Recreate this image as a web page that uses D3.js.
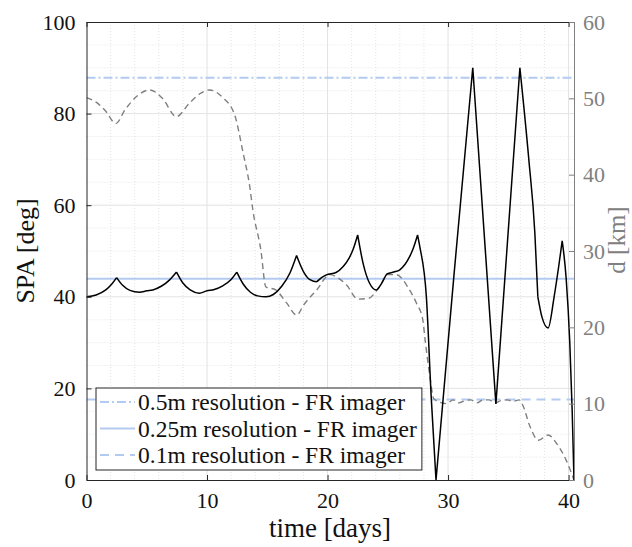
<!DOCTYPE html>
<html>
<head>
<meta charset="utf-8">
<script src="https://cdn.jsdelivr.net/npm/d3@7"></script>
<style>
  body { margin: 0; background: #fff; }
  text { font-family: "Liberation Serif", "Times New Roman", serif; }
</style>
</head>
<body>
<svg id="chart" width="632" height="547"></svg>
<script>
"use strict";

// SPA (left axis, deg) - black solid line
const spaTime = [0, 0.8, 1.6, 2.1, 2.5, 3.0, 3.6, 4.4, 5.0, 5.5, 6.2, 6.9, 7.47,
  8.0, 8.6, 9.35, 10.0, 10.6, 11.3, 12.0, 12.47, 13.0, 13.6, 14.2, 14.9, 15.5,
  16.2, 16.9, 17.43, 18.0, 18.5, 19.05, 19.5, 19.9, 20.7, 21.3, 21.8, 22.1, 22.5,
  22.95, 23.5, 24.05, 24.5, 24.95, 25.5, 26.0, 26.8, 27.1, 27.47, 27.66, 28.2,
  28.6, 29.0, 30.5, 32.05, 33.97, 35.96, 36.7, 37.2, 37.45, 37.8, 38.3, 38.8,
  39.2, 39.47, 39.8, 40.1, 40.3, 40.45];
const spaValues = [40, 40.4, 41.5, 42.8, 44.2, 42.5, 41.4, 41.0, 41.3, 41.5, 42.3,
  43.7, 45.4, 43.0, 41.5, 40.8, 41.3, 41.6, 42.4, 43.8, 45.4, 42.8, 41.0, 40.2,
  40.0, 40.5, 42.3, 45.3, 49.0, 45.5, 43.8, 43.3, 44.2, 44.8, 45.3, 46.6, 48.5,
  50.2, 53.5, 47.3, 42.9, 41.5, 43.0, 45.0, 45.4, 45.9, 48.7, 50.5, 53.5, 50.9,
  40, 18.2, 0, 45, 90, 16.6, 90, 70, 54, 40, 35.5, 33.2, 40.0, 47.0, 52.2, 44,
  30, 15, 0];
// times where the SPA curve has a sharp corner
const spaCusps = [2.5, 7.47, 12.47, 17.43, 22.5, 27.47, 29.0, 32.05, 33.97, 35.96, 37.45, 39.47];

// distance (right axis, km) - gray dashed line
const distTime = [0, 0.8, 1.6, 2.43, 3.2, 4.2, 5.25, 6.3, 7.46, 8.5, 9.4, 10.2,
  11.3, 12.3, 13.0, 13.55, 13.8, 14.47, 14.88, 15.7, 16.6, 17.45, 18.0, 19.1,
  20.2, 20.75, 21.6, 22.5, 23.4, 24.3, 25.0, 25.7, 26.8, 27.4, 27.9, 28.1, 28.5,
  28.8, 29.3, 29.9, 30.4, 30.9, 31.4, 31.9, 32.4, 32.9, 33.4, 33.9, 34.4, 34.9,
  35.4, 35.9, 36.2, 36.8, 37.5, 38.3, 39.0, 39.8, 40.45];
const distValues = [50.1, 49.5, 48.3, 46.7, 48.5, 50.3, 51.1, 50.0, 47.6, 49.3,
  50.6, 51.1, 50.1, 47.8, 42.8, 38.4, 35.4, 30.1, 25.3, 24.9, 23.2, 21.6, 22.9,
  24.9, 26.9, 26.6, 25.5, 23.7, 23.8, 25.3, 26.9, 26.9, 24.9, 23.1, 21.0, 18.3,
  13.5, 10.7, 10.2, 10.0, 10.5, 10.1, 10.4, 10.5, 10.1, 10.5, 10.5, 10.1, 10.4,
  10.5, 10.3, 10.5, 9.8, 7.0, 5.2, 5.9, 4.8, 2.6, 0];

// resolution thresholds (right axis, km)
const resLabels = ["0.5m resolution - FR imager", "0.25m resolution - FR imager", "0.1m resolution - FR imager"];
const resValues = [52.7, 26.35, 10.54];
const resDash = ["9,3,2,3", null, "9,6"];

const xTicks = [0, 10, 20, 30, 40];
const yLeftTicks = [0, 20, 40, 60, 80, 100];
const yRightTicks = [0, 10, 20, 30, 40, 50, 60];

const svg = d3.select("#chart");
const pLeft = 86.5, pRight = 574, pTop = 22, pBottom = 480;
const axisColor = "#262626", rightColor = "#808080", resColor = "#b3cbf0";

const x = d3.scaleLinear().domain([0, 40.45]).range([pLeft, pRight]);
const yL = d3.scaleLinear().domain([0, 100]).range([pBottom, pTop]);
const yR = d3.scaleLinear().domain([0, 60]).range([pBottom, pTop]);

svg.append("defs").append("clipPath").attr("id", "plotClip")
  .append("rect").attr("x", pLeft).attr("y", pTop)
  .attr("width", pRight - pLeft).attr("height", pBottom - pTop);

// minor grid
const grid = svg.append("g");
grid.selectAll("line.mx").data(d3.range(2, 40.45, 2).filter(v => v % 10 !== 0))
  .enter().append("line")
  .attr("x1", d => x(d)).attr("x2", d => x(d)).attr("y1", pTop).attr("y2", pBottom)
  .attr("stroke", "#d8d8d8").attr("stroke-width", 0.7).attr("stroke-dasharray", "1,2");
grid.selectAll("line.my").data(d3.range(5, 100, 5).filter(v => v % 20 !== 0))
  .enter().append("line")
  .attr("x1", pLeft).attr("x2", pRight).attr("y1", d => yL(d)).attr("y2", d => yL(d))
  .attr("stroke", "#d8d8d8").attr("stroke-width", 0.7).attr("stroke-dasharray", "1,2");
// major grid
grid.selectAll("line.gx").data(xTicks.slice(1))
  .enter().append("line")
  .attr("x1", d => x(d)).attr("x2", d => x(d)).attr("y1", pTop).attr("y2", pBottom)
  .attr("stroke", "#e3e3e3").attr("stroke-width", 1);
grid.selectAll("line.gy").data(yLeftTicks.slice(1, -1))
  .enter().append("line")
  .attr("x1", pLeft).attr("x2", pRight).attr("y1", d => yL(d)).attr("y2", d => yL(d))
  .attr("stroke", "#e3e3e3").attr("stroke-width", 1);

const plot = svg.append("g").attr("clip-path", "url(#plotClip)");

// resolution lines
plot.selectAll("line.res").data(resValues)
  .enter().append("line")
  .attr("x1", pLeft).attr("x2", pRight)
  .attr("y1", d => yR(d)).attr("y2", d => yR(d))
  .attr("stroke", resColor).attr("stroke-width", 2)
  .attr("stroke-dasharray", (d, i) => resDash[i]);

// distance line
const distLine = d3.line().x(d => x(d[0])).y(d => yR(d[1])).curve(d3.curveMonotoneX);
plot.append("path")
  .attr("d", distLine(distTime.map((t, i) => [t, distValues[i]])))
  .attr("fill", "none").attr("stroke", "#7f7f7f").attr("stroke-width", 1.4)
  .attr("stroke-dasharray", "6,4");

// SPA line: smooth pieces between the sharp corners
const spaPoints = spaTime.map((t, i) => [t, spaValues[i]]);
const spaPieces = [];
let piece = [];
spaPoints.forEach(p => {
  piece.push(p);
  if (spaCusps.includes(p[0])) {
    spaPieces.push(piece);
    piece = [p];
  }
});
if (piece.length > 1) spaPieces.push(piece);

const spaLine = d3.line().x(d => x(d[0])).y(d => yL(d[1])).curve(d3.curveMonotoneX);
plot.append("path")
  .attr("d", spaPieces.map(s => spaLine(s)).join(""))
  .attr("fill", "none").attr("stroke", "#000").attr("stroke-width", 1.5)
  .attr("stroke-linejoin", "miter");

// axes
const fontSize = "22px";
const xAxis = svg.append("g").attr("transform", `translate(0,${pBottom})`)
  .call(d3.axisBottom(x).tickValues(xTicks).tickSizeInner(-5).tickSizeOuter(0).tickPadding(12));
const xTop = svg.append("g").attr("transform", `translate(0,${pTop})`)
  .call(d3.axisTop(x).tickValues(xTicks).tickSizeInner(-5).tickSizeOuter(0).tickFormat(""));
const yAxisL = svg.append("g").attr("transform", `translate(${pLeft},0)`)
  .call(d3.axisLeft(yL).tickValues(yLeftTicks).tickSizeInner(-5).tickSizeOuter(0).tickPadding(11));
const yAxisR = svg.append("g").attr("transform", `translate(${pRight},0)`)
  .call(d3.axisRight(yR).tickValues(yRightTicks).tickSizeInner(-5).tickSizeOuter(0).tickPadding(9));

[xAxis, xTop, yAxisL].forEach(a => {
  a.select(".domain").attr("stroke", axisColor).attr("stroke-width", 1);
  a.selectAll(".tick line").attr("stroke", axisColor);
  a.selectAll("text").attr("fill", "#111").style("font-size", fontSize);
});
yAxisR.select(".domain").attr("stroke", rightColor).attr("stroke-width", 1);
yAxisR.selectAll(".tick line").attr("stroke", rightColor);
yAxisR.selectAll("text").attr("fill", rightColor).style("font-size", fontSize);

// axis labels
svg.append("text")
  .attr("transform", `translate(34,${(pTop + pBottom) / 2}) rotate(-90)`)
  .attr("text-anchor", "middle")
  .style("font-size", "26px").attr("fill", "#111")
  .text("SPA [deg]");
svg.append("text")
  .attr("transform", `translate(625,240) rotate(-90)`)
  .attr("text-anchor", "middle")
  .style("font-size", "25px").attr("fill", rightColor)
  .text("d [km]");
svg.append("text")
  .attr("x", 330).attr("y", 537)
  .attr("text-anchor", "middle")
  .style("font-size", "27px").attr("fill", "#111")
  .text("time [days]");

// legend
const legend = svg.append("g");
const legX = 96, legY = 388, rowH = 26.5;
const legBox = legend.append("rect")
  .attr("x", legX).attr("y", legY).attr("height", 82)
  .attr("fill", "#fff").attr("stroke", axisColor).attr("stroke-width", 1);
let maxEnd = 0;
resLabels.forEach((label, i) => {
  const cy = legY + 14 + i * rowH;
  legend.append("line")
    .attr("x1", legX + 4).attr("x2", legX + 39).attr("y1", cy).attr("y2", cy)
    .attr("stroke", resColor).attr("stroke-width", 2)
    .attr("stroke-dasharray", resDash[i]);
  const t = legend.append("text")
    .attr("x", legX + 42).attr("y", cy).attr("dy", "0.35em")
    .style("font-size", "23.5px").attr("fill", "#111")
    .text(label);
  const bb = t.node().getBBox();
  maxEnd = Math.max(maxEnd, bb.x + bb.width);
});
legBox.attr("width", maxEnd + 5 - legX);
</script>
</body>
</html>
